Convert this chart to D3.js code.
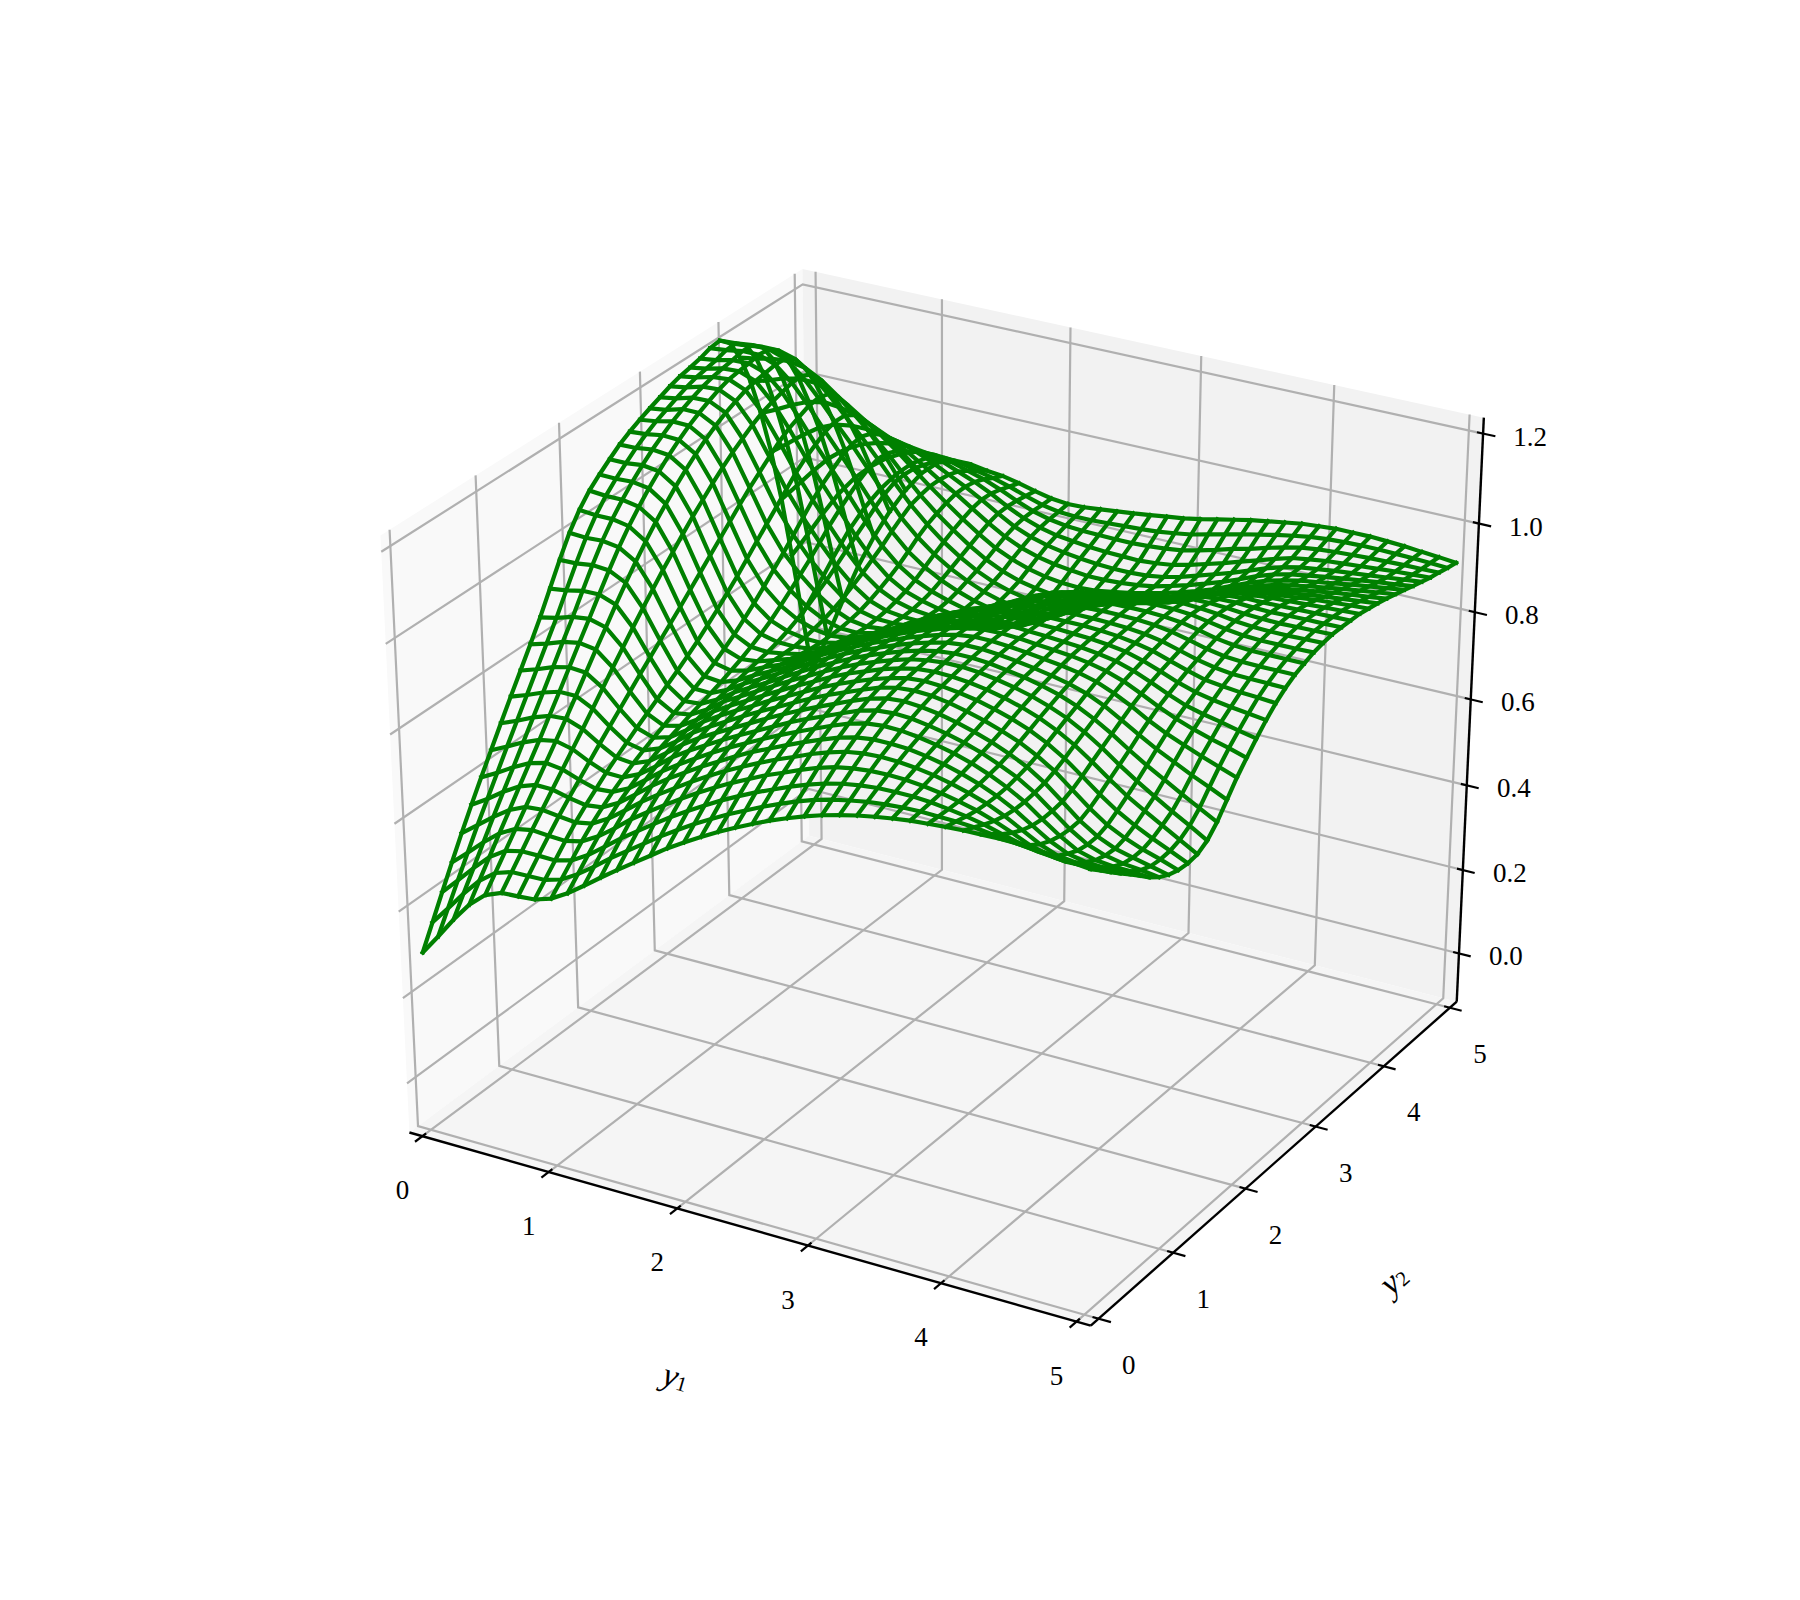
<!DOCTYPE html>
<html>
<head>
<meta charset="utf-8">
<script src="https://cdn.jsdelivr.net/npm/d3@7"></script>
<style>
body { margin: 0; background: #fff; }
text { font-family: "Liberation Serif", serif; font-size: 27px; fill: #000; }
</style>
</head>
<body>
<div id="drawing-area"></div>
<script>
var xTicks = [0, 1, 2, 3, 4, 5];
var yTicks = [0, 1, 2, 3, 4, 5];
var zTicks = [0, 0.2, 0.4, 0.6, 0.8, 1.0, 1.2];
var zTickLabels = ["0.0", "0.2", "0.4", "0.6", "0.8", "1.0", "1.2"];
var xLimits = [0, 5];
var yLimits = [0, 5];
var zLimits = [-0.09, 1.208];

// mesh heights, one row per y1 step, one column per y2 step
// estimated by eye: at 11 x 11 places, smoothed in between
var gridZ = [
[.300,.352,.404,.455,.505,.553,.599,.644,.689,.733,.776,.819,.864,.913,.962,1.007,1.043,1.071,1.092,1.111,1.129,1.143,1.155,1.166,1.176,1.186,1.194,1.199,1.205,1.214,1.217,1.197,1.150,1.082,.995,.891,.766,.619,.463,.310],
[.347,.394,.441,.487,.533,.576,.619,.662,.704,.746,.788,.830,.872,.918,.963,1.005,1.040,1.068,1.091,1.111,1.130,1.146,1.160,1.171,1.182,1.192,1.200,1.205,1.210,1.218,1.219,1.200,1.156,1.092,1.012,.918,.807,.676,.538,.403],
[.396,.438,.479,.521,.562,.602,.641,.681,.721,.761,.802,.843,.883,.926,.968,1.007,1.040,1.068,1.093,1.115,1.135,1.152,1.168,1.181,1.192,1.202,1.209,1.214,1.218,1.224,1.223,1.205,1.164,1.105,1.031,.947,.849,.735,.615,.498],
[.440,.477,.514,.551,.587,.624,.660,.696,.734,.772,.811,.850,.888,.927,.965,1.001,1.033,1.061,1.087,1.110,1.131,1.150,1.167,1.181,1.193,1.204,1.212,1.216,1.219,1.224,1.222,1.205,1.167,1.113,1.046,.972,.887,.790,.688,.589],
[.472,.505,.538,.571,.604,.637,.670,.703,.737,.772,.808,.844,.878,.913,.946,.978,1.008,1.036,1.061,1.085,1.107,1.127,1.145,1.161,1.175,1.186,1.196,1.202,1.206,1.210,1.209,1.194,1.160,1.112,1.053,.988,.916,.835,.750,.667],
[.487,.517,.547,.578,.607,.636,.665,.694,.723,.753,.783,.813,.842,.871,.899,.926,.953,.978,1.003,1.027,1.049,1.071,1.091,1.110,1.126,1.142,1.155,1.164,1.171,1.178,1.179,1.168,1.140,1.099,1.049,.994,.936,.870,.802,.735],
[.489,.518,.547,.575,.602,.627,.651,.675,.699,.722,.745,.768,.791,.813,.835,.857,.879,.902,.925,.948,.971,.994,1.017,1.039,1.059,1.079,1.098,1.113,1.124,1.134,1.138,1.132,1.112,1.078,1.038,.994,.948,.898,.846,.794],
[.492,.519,.546,.573,.598,.620,.640,.660,.678,.695,.712,.728,.744,.760,.776,.793,.811,.831,.851,.873,.895,.919,.943,.967,.990,1.014,1.037,1.056,1.071,1.085,1.093,1.092,1.079,1.053,1.022,.989,.955,.918,.880,.842],
[.504,.530,.556,.582,.605,.625,.643,.659,.674,.687,.699,.710,.722,.733,.745,.757,.771,.787,.804,.823,.843,.865,.888,.911,.935,.960,.984,1.005,1.022,1.038,1.050,1.053,1.045,1.028,1.005,.981,.957,.930,.902,.875],
[.526,.552,.578,.603,.626,.645,.661,.676,.689,.701,.710,.719,.728,.736,.744,.753,.763,.773,.785,.798,.813,.831,.850,.870,.890,.912,.935,.955,.973,.990,1.003,1.011,1.009,.999,.984,.968,.951,.931,.910,.889],
[.553,.579,.606,.631,.654,.673,.689,.703,.716,.726,.735,.742,.749,.755,.761,.766,.772,.777,.782,.789,.798,.809,.822,.836,.851,.869,.887,.905,.922,.940,.955,.966,.969,.967,.961,.952,.940,.924,.906,.889],
[.581,.608,.635,.661,.683,.702,.718,.733,.745,.755,.763,.770,.776,.780,.784,.787,.789,.789,.788,.788,.791,.796,.802,.810,.820,.833,.846,.861,.876,.894,.910,.924,.931,.936,.936,.933,.925,.912,.897,.883],
[.608,.634,.661,.687,.709,.728,.743,.757,.769,.778,.786,.792,.797,.801,.804,.805,.804,.801,.796,.792,.790,.790,.791,.794,.799,.807,.817,.828,.841,.857,.874,.888,.898,.907,.913,.914,.910,.901,.889,.879],
[.634,.660,.687,.712,.733,.751,.766,.779,.790,.799,.807,.813,.818,.821,.824,.824,.822,.817,.810,.804,.799,.794,.790,.788,.790,.793,.799,.806,.816,.830,.844,.857,.869,.879,.888,.893,.892,.886,.878,.871],
[.660,.686,.712,.736,.757,.774,.788,.800,.810,.820,.827,.834,.839,.843,.846,.847,.844,.839,.831,.822,.815,.806,.798,.792,.789,.788,.789,.793,.799,.809,.820,.831,.842,.853,.863,.870,.871,.869,.865,.861],
[.686,.710,.735,.759,.779,.795,.809,.820,.830,.840,.848,.854,.860,.864,.868,.869,.867,.861,.853,.843,.834,.822,.809,.799,.792,.787,.785,.784,.787,.793,.801,.809,.819,.830,.841,.849,.853,.854,.853,.853],
[.709,.733,.757,.780,.800,.816,.828,.839,.850,.859,.867,.874,.879,.884,.887,.888,.886,.881,.873,.863,.852,.837,.821,.807,.797,.788,.781,.778,.777,.780,.785,.792,.801,.813,.824,.834,.840,.844,.846,.849],
[.731,.754,.778,.800,.819,.835,.847,.858,.869,.878,.886,.893,.899,.903,.906,.906,.904,.900,.893,.884,.872,.855,.836,.818,.804,.791,.781,.773,.770,.771,.774,.780,.788,.800,.812,.823,.831,.838,.844,.850],
[.752,.774,.797,.818,.837,.852,.865,.877,.887,.897,.905,.912,.917,.921,.923,.923,.921,.919,.914,.906,.893,.874,.853,.832,.815,.798,.784,.773,.767,.766,.768,.772,.780,.791,.804,.816,.826,.835,.844,.854],
[.771,.792,.815,.836,.854,.869,.882,.894,.904,.914,.922,.929,.934,.937,.938,.938,.937,.936,.933,.926,.914,.894,.871,.849,.829,.810,.792,.778,.770,.766,.766,.769,.775,.786,.799,.811,.822,.834,.846,.858],
[.789,.810,.831,.851,.869,.885,.898,.909,.920,.929,.937,.943,.948,.951,.953,.953,.952,.951,.949,.943,.931,.913,.891,.869,.849,.828,.808,.791,.781,.774,.771,.771,.776,.784,.795,.807,.819,.833,.848,.862],
[.806,.826,.847,.867,.885,.900,.914,.925,.936,.944,.951,.957,.961,.964,.966,.966,.966,.965,.963,.958,.948,.933,.915,.895,.876,.855,.833,.815,.801,.791,.784,.780,.781,.786,.795,.805,.818,.833,.850,.867],
[.821,.841,.861,.881,.898,.914,.928,.940,.950,.958,.963,.968,.972,.975,.977,.978,.978,.977,.974,.970,.962,.951,.939,.924,.906,.885,.863,.843,.827,.813,.801,.794,.791,.792,.797,.805,.817,.835,.853,.872],
[.835,.854,.873,.892,.909,.924,.938,.950,.960,.967,.972,.976,.979,.983,.986,.987,.987,.986,.983,.979,.974,.967,.959,.948,.932,.912,.889,.868,.850,.833,.818,.807,.801,.799,.801,.807,.820,.838,.858,.877],
[.847,.864,.882,.899,.915,.929,.942,.953,.963,.970,.975,.979,.983,.987,.990,.992,.992,.991,.989,.986,.982,.978,.972,.964,.949,.929,.906,.885,.866,.847,.830,.818,.810,.807,.807,.813,.825,.843,.864,.884],
[.857,.872,.888,.903,.917,.929,.941,.951,.960,.968,.973,.978,.983,.987,.990,.992,.993,.993,.992,.989,.987,.984,.980,.973,.959,.939,.917,.895,.876,.857,.840,.827,.820,.816,.817,.822,.834,.852,.873,.892],
[.866,.879,.892,.904,.916,.927,.936,.945,.954,.962,.968,.974,.980,.984,.987,.989,.991,.991,.991,.990,.989,.988,.985,.978,.966,.946,.924,.903,.885,.866,.849,.837,.830,.827,.828,.834,.845,.862,.882,.900],
[.873,.883,.893,.903,.912,.921,.929,.937,.945,.953,.961,.968,.974,.978,.982,.985,.987,.989,.990,.990,.990,.989,.988,.982,.971,.953,.932,.912,.894,.876,.860,.848,.841,.839,.840,.846,.856,.873,.891,.908],
[.879,.886,.893,.899,.906,.913,.920,.927,.934,.942,.951,.959,.966,.972,.976,.980,.984,.986,.988,.990,.990,.991,.991,.987,.977,.961,.942,.924,.907,.890,.874,.862,.855,.852,.853,.858,.868,.882,.899,.914],
[.884,.887,.890,.893,.897,.902,.908,.914,.921,.929,.939,.948,.956,.963,.969,.975,.980,.983,.986,.988,.989,.991,.992,.990,.982,.969,.953,.938,.923,.906,.890,.878,.871,.868,.868,.872,.880,.893,.907,.920],
[.887,.886,.885,.885,.886,.889,.893,.898,.905,.914,.924,.934,.943,.952,.960,.968,.974,.978,.982,.985,.987,.990,.992,.991,.986,.976,.964,.951,.938,.922,.907,.895,.888,.884,.884,.886,.892,.903,.914,.926],
[.890,.885,.879,.875,.873,.873,.875,.880,.886,.894,.905,.916,.927,.937,.948,.958,.965,.971,.976,.979,.983,.987,.990,.991,.988,.981,.972,.962,.950,.935,.921,.909,.902,.898,.897,.898,.903,.911,.920,.929],
[.892,.882,.871,.862,.856,.853,.853,.856,.861,.870,.881,.894,.906,.918,.931,.942,.952,.959,.965,.971,.976,.981,.986,.988,.986,.982,.975,.967,.957,.944,.931,.920,.913,.908,.906,.906,.909,.916,.924,.932],
[.893,.877,.860,.846,.835,.828,.825,.826,.830,.839,.852,.867,.881,.895,.909,.923,.934,.943,.951,.958,.965,.972,.978,.981,.982,.980,.976,.970,.961,.950,.938,.928,.921,.916,.912,.911,.914,.919,.926,.932],
[.894,.872,.850,.829,.814,.804,.798,.796,.798,.808,.822,.838,.853,.869,.886,.901,.915,.926,.936,.946,.954,.962,.969,.974,.976,.976,.974,.970,.964,.954,.944,.935,.928,.922,.918,.916,.917,.921,.927,.932],
[.893,.868,.842,.818,.799,.786,.776,.772,.773,.781,.795,.811,.827,.845,.864,.882,.898,.911,.924,.935,.946,.955,.963,.969,.972,.974,.973,.971,.966,.958,.949,.941,.934,.928,.923,.920,.920,.923,.927,.930],
[.891,.865,.838,.813,.794,.778,.765,.758,.756,.762,.773,.788,.803,.823,.845,.866,.884,.901,.916,.930,.941,.952,.960,.967,.971,.973,.974,.972,.968,.962,.954,.947,.940,.934,.928,.924,.923,.924,.926,.928],
[.887,.862,.837,.814,.794,.776,.761,.750,.746,.747,.754,.766,.780,.801,.826,.851,.872,.893,.910,.926,.940,.951,.960,.967,.971,.974,.975,.973,.970,.965,.958,.952,.945,.939,.933,.928,.926,.925,.925,.924],
[.882,.860,.838,.816,.796,.778,.760,.746,.737,.735,.737,.744,.758,.780,.809,.837,.862,.884,.905,.924,.939,.951,.960,.967,.972,.975,.975,.974,.972,.968,.962,.956,.950,.944,.937,.932,.928,.925,.923,.921],
[.878,.858,.837,.817,.798,.778,.757,.740,.728,.721,.719,.722,.735,.759,.791,.823,.850,.876,.900,.921,.938,.951,.960,.968,.973,.976,.976,.975,.974,.970,.966,.961,.955,.949,.942,.936,.930,.926,.921,.917]
];
var gridX = gridZ.map(function (r, i) { return 5 * i / (gridZ.length - 1); });
var gridY = gridZ[0].map(function (z, j) { return 5 * j / (gridZ[0].length - 1); });

var width = 1800, height = 1600;
var svg = d3.select('#drawing-area').append('svg').attr('width', width).attr('height', height);

var nx = d3.scaleLinear().domain(xLimits).range([0, 1]);
var ny = d3.scaleLinear().domain(yLimits).range([0, 1]);
var nz = d3.scaleLinear().domain(zLimits).range([0, 1]);
var sx = d3.scaleLinear().domain([-0.095, 0.09]).range([224.25, 1621]);
var sy = d3.scaleLinear().domain([-0.095, 0.09]).range([1399.9, 189.8]);

var elev = 30 * Math.PI / 180, azim = -60 * Math.PI / 180, dist = 10;
var w = [Math.cos(elev) * Math.cos(azim), Math.cos(elev) * Math.sin(azim), Math.sin(elev)];
var u = [0.866025, 0.5, 0];
var v = [-0.25, 0.433013, 0.866025];

function dot(a, b) { return a[0] * b[0] + a[1] * b[1] + a[2] * b[2]; }

// a point of the unit cube to the page
function proj(p) {
    var q = [p[0] - 0.5, p[1] - 0.5, p[2] - 0.5];
    var d = dist - dot(q, w);
    return [sx(dot(q, u) / d), sy(dot(q, v) / d)];
}

var line = d3.line().x(function (d) { return d[0]; }).y(function (d) { return d[1]; });
var e = 1 / 48;
var lo = -e, hi = 1 + e;

// panes
var panes = [
    { fill: "#f9f9f9", c: [[lo, lo, lo], [lo, hi, lo], [lo, hi, hi], [lo, lo, hi]] },
    { fill: "#f2f2f2", c: [[lo, hi, lo], [hi, hi, lo], [hi, hi, hi], [lo, hi, hi]] },
    { fill: "#f5f5f5", c: [[lo, lo, lo], [hi, lo, lo], [hi, hi, lo], [lo, hi, lo]] }
];
svg.selectAll(".pane").data(panes).enter().append("path")
    .attr("fill", function (d) { return d.fill; })
    .attr("d", function (d) { return line(d.c.map(proj)) + "Z"; });

function poly(pts, color, lw) {
    svg.append("path").attr("fill", "none").attr("stroke", color).attr("stroke-width", lw)
        .attr("stroke-linejoin", "miter")
        .attr("d", line(pts.map(proj)));
}

// grid lines
var gridColor = "#b0b0b0", gridWidth = 2.2;
xTicks.forEach(function (t) {
    var n = nx(t);
    poly([[n, lo, lo], [n, hi, lo], [n, hi, hi]], gridColor, gridWidth);
});
yTicks.forEach(function (t) {
    var n = ny(t);
    poly([[hi, n, lo], [lo, n, lo], [lo, n, hi]], gridColor, gridWidth);
});
zTicks.forEach(function (t) {
    var n = nz(t);
    poly([[lo, lo, n], [lo, hi, n], [hi, hi, n]], gridColor, gridWidth);
});

// axis lines
poly([[lo, lo, lo], [hi, lo, lo]], "#000", 2.4);
poly([[hi, lo, lo], [hi, hi, lo]], "#000", 2.4);
poly([[hi, hi, lo], [hi, hi, hi]], "#000", 2.4);

// ticks
var tickOut = 0.018, tickIn = 0.009;
xTicks.forEach(function (t) {
    var n = nx(t);
    poly([[n, lo - tickOut, lo], [n, lo + tickIn, lo]], "#000", 2.2);
});
yTicks.forEach(function (t) {
    var n = ny(t);
    poly([[hi + tickOut, n, lo], [hi - tickIn, n, lo]], "#000", 2.2);
});
zTicks.forEach(function (t) {
    var n = nz(t);
    poly([[hi + tickOut, hi, n], [hi - tickIn, hi, n]], "#000", 2.2);
});

// tick labels
function label(p, dx, dy, s) {
    var q = proj(p);
    svg.append("text").attr("x", q[0] + dx).attr("y", q[1] + dy)
        .attr("text-anchor", "middle").attr("dominant-baseline", "central").text(s);
}
xTicks.forEach(function (t) { label([nx(t), lo, lo], -20, 54, t); });
yTicks.forEach(function (t) { label([hi, ny(t), lo], 30, 46, t); });
zTicks.forEach(function (t, i) { label([hi, hi, nz(t)], 47, 3, zTickLabels[i]); });

// axis titles
function title(x, y, rot, sub) {
    var t = svg.append("text").attr("transform", "translate(" + x + "," + y + ") rotate(" + rot + ")")
        .attr("text-anchor", "middle").attr("dominant-baseline", "central");
    t.append("tspan").attr("font-style", "italic").attr("font-size", 34).text("y");
    t.append("tspan").attr("font-size", 21).attr("dy", 6).text(sub);
}
title(676, 1376, 16, "1");
title(1393, 1279, -41, "2");

// wireframe
var wireColor = "#008000", wireWidth = 4.2;
var wire = svg.append("g").attr("fill", "none").attr("stroke", wireColor).attr("stroke-width", wireWidth).attr("stroke-linecap", "square");
gridX.forEach(function (x, i) {
    wire.append("path").attr("d", line(gridY.map(function (y, j) { return proj([nx(x), ny(y), nz(gridZ[i][j])]); })));
});
gridY.forEach(function (y, j) {
    wire.append("path").attr("d", line(gridX.map(function (x, i) { return proj([nx(x), ny(y), nz(gridZ[i][j])]); })));
});
</script>
</body>
</html>
